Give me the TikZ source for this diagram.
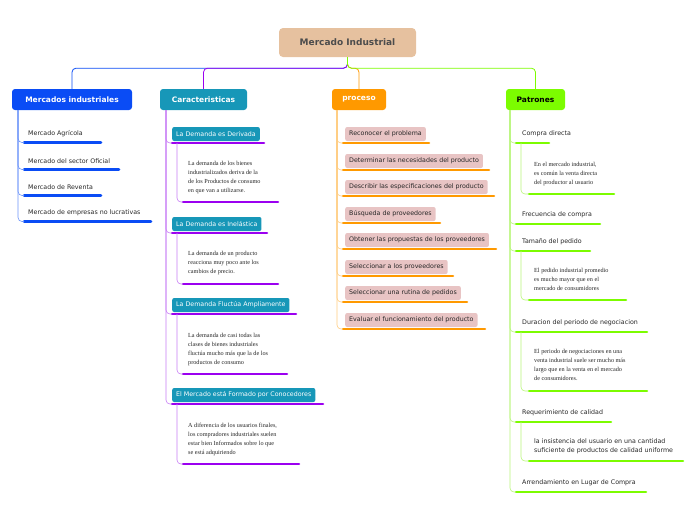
\documentclass[tikz,border=0pt]{standalone}
\usepackage{fontspec}
\setmainfont{Liberation Serif}
\newfontfamily\lbl{DejaVu Sans}
\begin{document}
\begin{tikzpicture}[x=1pt,y=-1pt,
  bar/.style={line width=2.6pt,line cap=round},
  conn/.style={line width=0.8pt,rounded corners=4pt},
  item/.style={font=\lbl\fontsize{6.3}{7}\selectfont,anchor=west,inner sep=0pt,text=black!85},
  desc/.style={font=\fontsize{6.2}{9}\selectfont,anchor=north west,inner sep=0pt,align=left,text=black!85},
  topbox/.style={rounded corners=3pt,font=\lbl\bfseries\fontsize{7.5}{9}\selectfont,text=white,minimum height=21pt,inner sep=0pt},
  subbox/.style={fill=tealc,rounded corners=2pt,font=\lbl\fontsize{6.3}{7}\selectfont,text=white,minimum height=14pt,inner xsep=4pt,anchor=west},
  pbox/.style={fill=pinkc,rounded corners=2pt,font=\lbl\fontsize{6.3}{7}\selectfont,text=black!85,minimum height=14pt,inner xsep=4pt,anchor=west}]
\definecolor{bluec}{HTML}{0A4CF5}
\definecolor{purc}{HTML}{9B00F0}
\definecolor{purl}{HTML}{C77CF5}
\definecolor{tealc}{HTML}{1797B8}
\definecolor{orc}{HTML}{FF9900}
\definecolor{orl}{HTML}{FFCC80}
\definecolor{pinkc}{HTML}{E8C4C4}
\definecolor{grc}{HTML}{7CFC00}
\definecolor{grl}{HTML}{B8F57A}
\definecolor{rootc}{HTML}{E6C19F}
\useasboundingbox (0,0) rectangle (696,520);
% root
\node[rounded corners=4pt,fill=rootc,minimum width=137pt,minimum height=29pt,font=\lbl\bfseries\fontsize{9}{11}\selectfont,text=black!70] (root) at (347.5,42.5) {Mercado Industrial};
\node[topbox,fill=bluec,minimum width=120pt] (mi) at (72,99.5) {Mercados industriales};
\node[topbox,fill=tealc,minimum width=87pt] (ca) at (203.5,99.5) {Caracteristicas};
\node[topbox,fill=orc,minimum width=54pt] (pr) at (359,99.5) {proceso};
\node[topbox,fill=grc,minimum width=59pt,text=black] (pa) at (535.5,99.5) {Patrones};
\draw[conn,bluec] (root.south) -- ++(0,11) -| (mi.north);
\draw[conn,purc] (root.south) -- ++(0,11) -| (ca.north);
\draw[conn,orc] (root.south) -- ++(0,11) -| (pr.north);
\draw[conn,grc] (root.south) -- ++(0,11) -| (pa.north);
% Mercados industriales
\coordinate (bs) at (18,110);
\foreach \y/\t/\e in {134/Mercado Agrícola/101, 161/Mercado del sector Oficial/119, 187/Mercado de Reventa/101, 213/Mercado de empresas no lucrativas/151}{
  \node[item] at (28,\y) {\t};
  \draw[bar,bluec] (24,\y+8.5) -- (\e,\y+8.5);
  \draw[conn,bluec!60,line width=0.6pt] (bs) |- (24,\y+8.5);
}
% Caracteristicas
\coordinate (cs) at (166,110);
\newcommand\cblock[7]{% y, title, barend, desc y, desc, descbar y, descbar end
  \node[subbox] at (172,#1) {#2};
  \draw[bar,purc] (172,#1+9) -- (#3,#1+9);
  \draw[conn,purl,line width=0.6pt] (cs) |- (172,#1+9);
  \node[desc] at (188,#4) {#5};
  \draw[bar,purc] (183,#6) -- (#7,#6);
  \draw[conn,purl,line width=0.6pt] (177,#1+9) |- (183,#6);
}
\cblock{134}{La Demanda es Derivada}{264}{161}{La demanda de los bienes\\industrializados deriva de la\\de los Productos de consumo\\ en que van a utilizarse.}{202}{278}
\cblock{224}{La Demanda es Inelástica}{267}{251}{La demanda de un producto\\ reacciona muy poco ante los\\ cambios de precio.}{284}{278}
\cblock{305}{La Demanda Fluctúa Ampliamente}{296}{333}{La demanda de casi todas las\\clases de bienes industriales\\fluctúa mucho más que la de los\\productos de consumo}{374}{287}
\cblock{395}{El Mercado está Formado por Conocedores}{323}{423}{A diferencia de los usuarios finales,\\los compradores industriales suelen\\estar bien Informados sobre lo que\\se está adquiriendo}{464}{299}
% proceso
\coordinate (ps) at (337,110);
\foreach \y/\t/\e in {134/Reconocer el problema/429, 161/Determinar las necesidades del producto/489, 187/Describir las especificaciones del producto/494, 214/Búsqueda de proveedores/440, 240/Obtener las propuestas de los proveedores/496, 267/Seleccionar a los proveedores/453, 293/Seleccionar una rutina de pedidos/467, 320/Evaluar el funcionamiento del producto/485}{
  \node[pbox] at (345,\y) {\t};
  \draw[bar,orc] (343,\y+9) -- (\e,\y+9);
  \draw[conn,orl,line width=0.6pt] (ps) |- (343,\y+9);
}
% Patrones
\coordinate (gs) at (510,110);
\foreach \y/\t/\e in {134/Compra directa/549, 215/Frecuencia de compra/600, 242/Tamaño del pedido/590, 323/Duracion del periodo de negociacion/647, 413/Requerimiento de calidad/611, 483/Arrendamiento en Lugar de Compra/646}{
  \node[item] at (522,\y) {\t};
  \draw[bar,grc] (516,\y+9) -- (\e,\y+9);
  \draw[conn,grl,line width=0.6pt] (gs) |- (516,\y+9);
}
\newcommand\gdesc[5]{% parent bar y, desc y, text, bar y, bar end
  \node[desc] at (534,#2) {#3};
  \draw[bar,grc] (529,#4) -- (#5,#4);
  \draw[conn,grl,line width=0.6pt] (521,#1) |- (529,#4);
}
\gdesc{143}{162}{En el mercado industrial,\\es común la venta directa\\del productor al usuario}{194}{614}
\gdesc{251}{268}{El pedido industrial promedio\\es mucho mayor que en el\\mercado de consumidores}{300}{626}
\gdesc{332}{349}{El periodo de negociaciones en una\\venta industrial suele ser mucho más\\largo que en la venta en el mercado\\ de consumidores.}{391}{647}
\node[item,anchor=north west,align=left,font=\lbl\fontsize{6.3}{9}\selectfont] at (534,439) {la insistencia  del usuario en una cantidad\\suficiente de productos de calidad uniforme};
\draw[bar,grc] (529,461) -- (683,461);
\draw[conn,grl,line width=0.6pt] (521,422) |- (529,461);
\end{tikzpicture}
\end{document}
